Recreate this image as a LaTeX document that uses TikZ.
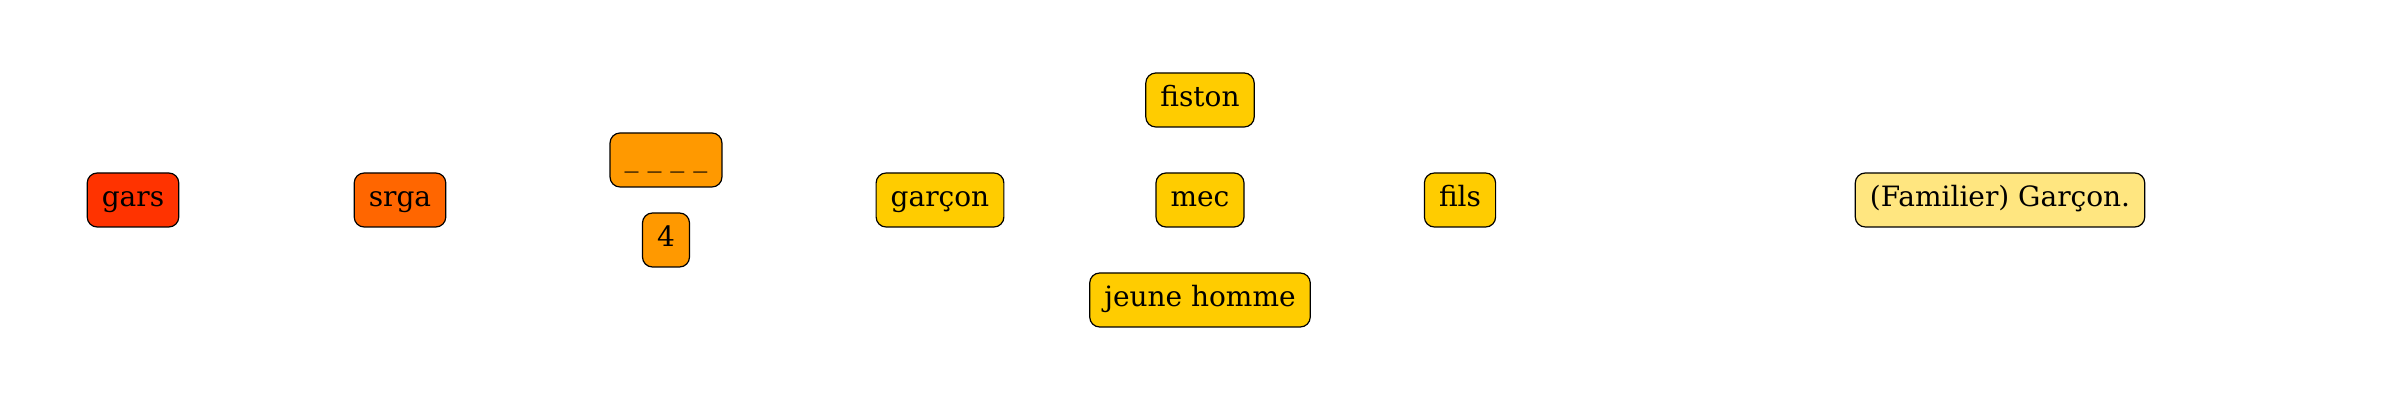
\documentclass[tikz,border=0pt]{standalone}
\usepackage{fontspec}
\setmainfont{DejaVu Serif}
\definecolor{cA}{HTML}{FF3300}
\definecolor{cB}{HTML}{FF6600}
\definecolor{cC}{HTML}{FF9900}
\definecolor{cD}{HTML}{FFCC00}
\definecolor{cE}{HTML}{FFE680}
\begin{document}
\begin{tikzpicture}[x=0.5pt,y=-0.5pt,
  box/.style={draw=black,line width=0.6pt,rounded corners=5pt,minimum height=27pt,inner xsep=7.3pt,inner ysep=2pt,
    font=\fontsize{14}{17}\selectfont,text height=10pt,text depth=3pt}]
\useasboundingbox (0,0) rectangle (2400,400);
\node[box,fill=cA] (gars) at (133,200) {gars};
\node[box,fill=cB] (srga) at (400,200) {srga};
\node[box,fill=cC,minimum width=54.5pt] (blank) at (666,160) {\_ \_ \_ \_};
\node[box,fill=cC] (four) at (666,240) {4};
\node[box,fill=cD] (garcon) at (940,200) {garçon};
\node[box,fill=cD] (fiston) at (1200,100) {fiston};
\node[box,fill=cD] (mec) at (1200,200) {mec};
\node[box,fill=cD] (jh) at (1200,300) {jeune homme};
\node[box,fill=cD] (fils) at (1460,200) {fils};
\node[box,fill=cE] (def) at (2000,200) {(Familier) Garçon.};
\end{tikzpicture}
\end{document}
